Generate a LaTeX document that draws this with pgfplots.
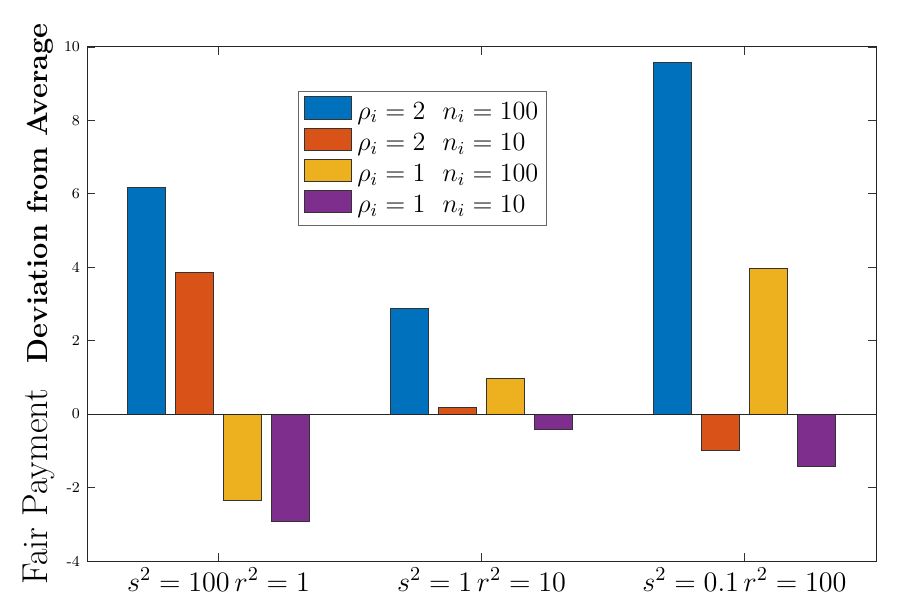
\documentclass[border=0pt]{standalone}
\usepackage{fix-cm}
\usepackage{pgfplots}
\pgfplotsset{compat=1.18}
\definecolor{c1}{rgb}{0,0.447,0.741}
\definecolor{c2}{rgb}{0.850,0.325,0.098}
\definecolor{c3}{rgb}{0.929,0.694,0.125}
\definecolor{c4}{rgb}{0.494,0.184,0.556}
\begin{document}
\begin{tikzpicture}
\begin{axis}[name=ax, scale only axis, width=394.5pt, height=257pt,
  xmin=0.5, xmax=3.5, ymin=-4, ymax=10,
  xtick={1,2,3},
  xticklabels={{$s^2=100\,r^2=1$},{$s^2=1\,r^2=10$},{$s^2=0.1\,r^2=100$}},
  ytick={-4,-2,0,2,4,6,8,10},
  yticklabels={-4,-2,0,2,4,6,8,10},
  tick align=inside, major tick length=4pt,
  tick style={black!80, line width=0.4pt},
  axis line style={black!85, line width=0.5pt},
  xticklabel style={font=\fontsize{14.1}{16}\selectfont},
  yticklabel style={font=\fontsize{7.5}{9}\selectfont},
  ylabel={{\fontsize{18}{20}\selectfont Fair Payment}\hspace{13pt}{\fontsize{14.5}{18}\selectfont\bfseries Deviation from Average}},
  ylabel style={at={(rel axis cs:-0.04,0.5)}, anchor=south, inner sep=0pt},
  legend style={at={(rel axis cs:0.2674,0.9144)}, anchor=north west,
    draw=black!60, line width=0.5pt, fill=white,
    inner xsep=3pt, inner ysep=2.5pt, row sep=0pt,
    font=\fontsize{13.1}{15}\selectfont,
    nodes={inner xsep=1pt, inner ysep=0.8pt, text height=9.5pt, text depth=3.5pt},
    /tikz/every odd column/.style={column sep=1.5pt}},
  legend cell align=left,
  legend image code/.code={\draw[#1, line width=0.5pt] (0pt,-3pt) rectangle (23.5pt,8pt);},
]
\addplot[ybar, bar width=0.1455, bar shift=-0.2727, fill=c1, draw=black!80, line width=0.5pt]
  coordinates {(1,6.18) (2,2.89) (3,9.59)};
\addplot[ybar, bar width=0.1455, bar shift=-0.0909, fill=c2, draw=black!80, line width=0.5pt]
  coordinates {(1,3.87) (2,0.19) (3,-0.98)};
\addplot[ybar, bar width=0.1455, bar shift=0.0909, fill=c3, draw=black!80, line width=0.5pt]
  coordinates {(1,-2.34) (2,0.98) (3,3.98)};
\addplot[ybar, bar width=0.1455, bar shift=0.2727, fill=c4, draw=black!80, line width=0.5pt]
  coordinates {(1,-2.92) (2,-0.41) (3,-1.42)};
\addplot[draw=black!85, line width=0.5pt, forget plot] coordinates {(0.5,0) (3.5,0)};
\legend{$\rho_i=2\ \ n_i=100$,$\rho_i=2\ \ n_i=10$,$\rho_i=1\ \ n_i=100$,$\rho_i=1\ \ n_i=10$}
\end{axis}
\pgfresetboundingbox
\path ([xshift=-43.5pt,yshift=-22pt]ax.south west) rectangle ([xshift=12pt,yshift=23.5pt]ax.north east);
\end{tikzpicture}
\end{document}
